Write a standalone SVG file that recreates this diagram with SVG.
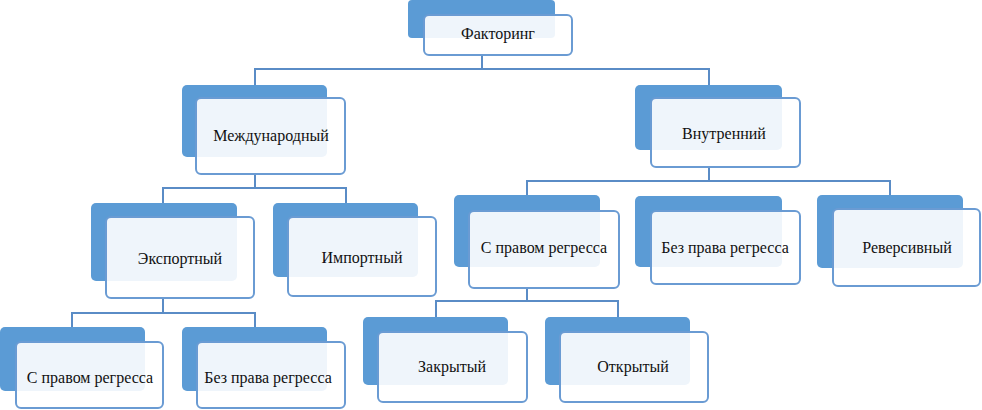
<svg xmlns="http://www.w3.org/2000/svg" width="982" height="410" viewBox="0 0 982 410">
<style>
.back{fill:#5b9bd5;}
.front{fill:#ffffff;fill-opacity:0.9;stroke:#6a9bd3;stroke-width:2;}
text{font-family:"Times New Roman","Liberation Serif",Tinos,"DejaVu Serif",serif;font-size:16px;fill:#111;text-anchor:middle;}
.con{fill:none;stroke:#5a8cc6;stroke-width:2;}
</style>
<rect width="982" height="410" fill="#ffffff"/>
<g id="connectors">
<path class="con" d="M482,55 V69 M255,85 V69 H709 V85"/>
<path class="con" d="M255,174 V188 M163,203 V188 H346 V203"/>
<path class="con" d="M709,167 V181 M527,195 V181 H890 V195"/>
<path class="con" d="M163,298 V313 M72,327 V313 H255 V327"/>
<path class="con" d="M527,288 V301 M436,317 V301 H618 V317"/>
</g>
<g id="n-factoring">
<rect class="back" x="408" y="0" width="147" height="38" rx="4"/>
<rect class="front" x="424" y="15" width="148" height="40" rx="5"/>
<text x="498" y="39">Факторинг</text>
</g>
<g id="n-international">
<rect class="back" x="182" y="85" width="145" height="72" rx="5"/>
<rect class="front" x="196" y="98" width="149" height="76" rx="5"/>
<text x="271" y="141">Международный</text>
</g>
<g id="n-internal">
<rect class="back" x="635" y="85" width="147" height="65" rx="5"/>
<rect class="front" x="651" y="98" width="149" height="69" rx="5"/>
<text x="724" y="139">Внутренний</text>
</g>
<g id="n-export">
<rect class="back" x="91" y="203" width="146" height="78" rx="5"/>
<rect class="front" x="106" y="217" width="148" height="81" rx="5"/>
<text x="180" y="264">Экспортный</text>
</g>
<g id="n-import">
<rect class="back" x="273" y="203" width="145" height="74" rx="5"/>
<rect class="front" x="288" y="217" width="148" height="79" rx="5"/>
<text x="362" y="263">Импортный</text>
</g>
<g id="n-recourse">
<rect class="back" x="454" y="195" width="146" height="72" rx="5"/>
<rect class="front" x="469" y="211" width="150" height="77" rx="5"/>
<text x="544" y="253">С правом регресса</text>
</g>
<g id="n-norecourse">
<rect class="back" x="635" y="196" width="147" height="71" rx="5"/>
<rect class="front" x="651" y="211" width="149" height="73" rx="5"/>
<text x="725" y="253">Без права регресса</text>
</g>
<g id="n-reverse">
<rect class="back" x="817" y="195" width="146" height="73" rx="5"/>
<rect class="front" x="833" y="209" width="147" height="77" rx="5"/>
<text x="907" y="253">Реверсивный</text>
</g>
<g id="n-exp-recourse">
<rect class="back" x="0" y="327" width="145" height="64" rx="5"/>
<rect class="front" x="16" y="342" width="147" height="66" rx="5"/>
<text x="90" y="383">С правом регресса</text>
</g>
<g id="n-exp-norecourse">
<rect class="back" x="182" y="327" width="145" height="64" rx="5"/>
<rect class="front" x="197" y="342" width="148" height="66" rx="5"/>
<text x="268" y="383">Без права регресса</text>
</g>
<g id="n-closed">
<rect class="back" x="363" y="317" width="145" height="68" rx="5"/>
<rect class="front" x="378" y="332" width="149" height="70" rx="5"/>
<text x="452" y="372">Закрытый</text>
</g>
<g id="n-open">
<rect class="back" x="545" y="317" width="145" height="68" rx="5"/>
<rect class="front" x="560" y="332" width="148" height="70" rx="5"/>
<text x="633" y="372">Открытый</text>
</g>
</svg>
